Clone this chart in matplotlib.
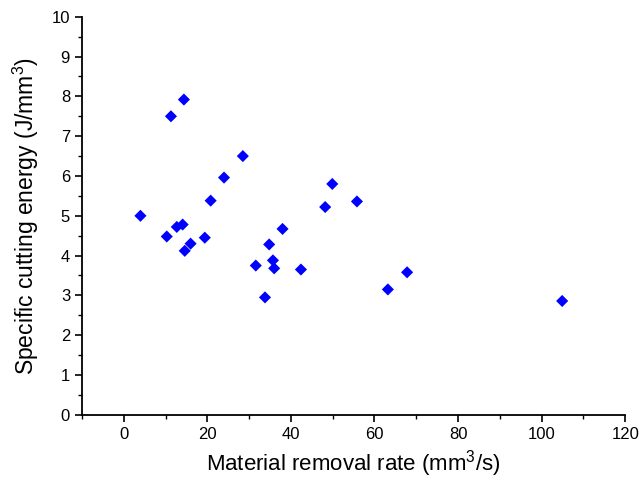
import numpy as np
import matplotlib.pyplot as plt
from matplotlib.ticker import MultipleLocator

plt.rcParams['font.family'] = ['Liberation Sans', 'DejaVu Sans']
plt.rcParams['mathtext.fontset'] = 'custom'
plt.rcParams['mathtext.rm'] = 'Liberation Sans'
plt.rcParams['mathtext.it'] = 'Liberation Sans'

mrr = [4.0, 10.3, 11.3, 12.7, 14.1, 14.4, 14.6, 16.0, 19.4, 20.8, 24.0, 28.5,
       31.6, 33.8, 34.8, 35.7, 36.0, 38.0, 42.4, 48.2, 49.9, 55.8, 63.2, 67.8, 104.9]
energy = [5.0, 4.48, 7.5, 4.72, 4.78, 7.92, 4.12, 4.3, 4.45, 5.38, 5.96, 6.5,
          3.75, 2.95, 4.28, 3.88, 3.68, 4.67, 3.65, 5.22, 5.8, 5.36, 3.15, 3.58, 2.86]

fig = plt.figure(figsize=(6.4, 4.79), dpi=100)
ax = fig.add_axes([0.128, 0.134, 0.849, 0.831])
ax.scatter(mrr, energy, marker='D', s=38, color='#0000ff', edgecolors='none')

ax.set_xlim(-10, 120)
ax.set_ylim(0, 10)
ax.xaxis.set_major_locator(MultipleLocator(20))
ax.xaxis.set_minor_locator(MultipleLocator(10))
ax.yaxis.set_major_locator(MultipleLocator(1))
ax.yaxis.set_minor_locator(MultipleLocator(0.5))
for s in ['top', 'right']:
    ax.spines[s].set_visible(False)
for s in ['left', 'bottom']:
    ax.spines[s].set_linewidth(1.3)
ax.tick_params(which='major', direction='out', length=5, width=1.2, labelsize=12)
ax.tick_params(which='minor', direction='out', length=3, width=1.0)

ax.set_xlabel('Material removal rate (mm$^{3}$/s)', fontsize=16, labelpad=5)
ax.set_ylabel('Specific cutting energy (J/mm$^{3}$)', fontsize=16.5, labelpad=8)

fig.savefig('out.png', dpi=100)
